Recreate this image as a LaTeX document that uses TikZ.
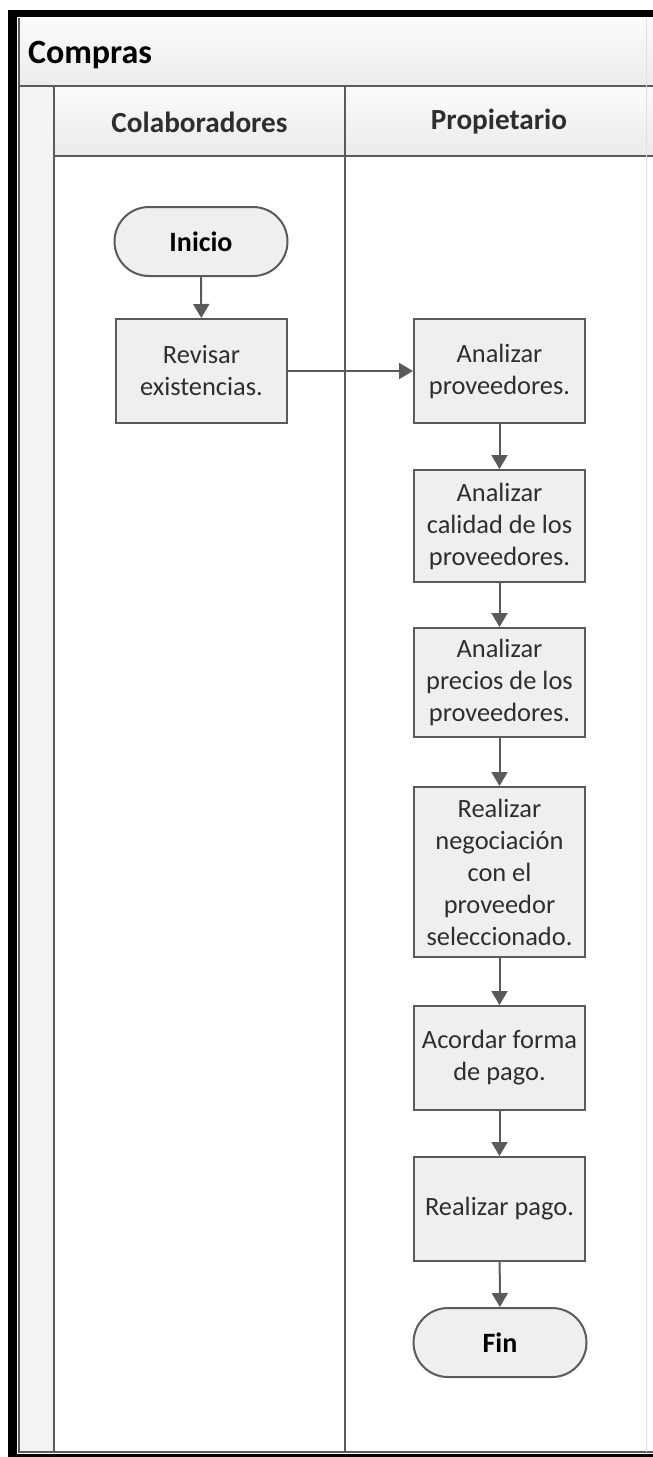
\documentclass[tikz,border=0pt]{standalone}
\usepackage{fontspec}
\setmainfont{Carlito}
\usepackage{tikz}
\usetikzlibrary{arrows.meta}
\definecolor{lane}{HTML}{5A5A5A}
\definecolor{boxfill}{HTML}{EFEFEF}
\definecolor{ink}{HTML}{2E2E2E}
\definecolor{bandtop}{HTML}{FBFBFB}
\definecolor{bandbot}{HTML}{EBEBEB}
\begin{document}
\begin{tikzpicture}[x=0.5pt,y=-0.5pt,
  proc/.style={draw=lane,line width=1pt,fill=boxfill,minimum width=85.5pt,inner sep=0pt,align=center,text=ink,font=\fontsize{13.2}{16}\selectfont},
  term/.style={proc,rounded corners=17.25pt,minimum width=86.5pt,minimum height=34.5pt,font=\fontsize{14}{16}\selectfont\bfseries,text=black},
  lanehead/.style={font=\fontsize{14.6}{17}\selectfont\bfseries,text=ink},
  flow/.style={draw=lane,line width=1pt,-{Triangle[length=7pt,width=8pt]}}]
\useasboundingbox (0,0) rectangle (653,1457);
% pool frame and lanes
\shade[top color=bandtop,bottom color=bandbot] (19,18) rectangle (653,86);
\fill[gray!9] (19,86) rectangle (54,1452);
\shade[top color=bandtop,bottom color=bandbot] (54,86) rectangle (653,156);
\fill[black] (8,10) rectangle (653,17); \fill[black] (8,10) rectangle (17,1457); \fill[black] (8,1454) rectangle (653,1457);
\draw[lane,line width=1pt] (19,18)--(19,1452)--(653,1452); \draw[lane,line width=1.2pt] (19,86)--(653,86);
\draw[lane,line width=1pt] (54,86)--(54,1452); \draw[lane,line width=1pt] (345,86)--(345,1452);
\draw[lane,line width=1.2pt] (54,156)--(653,156); \draw[gray!25,line width=0.5pt] (646,18)--(646,1452);
\node[anchor=west,font=\fontsize{17}{20}\selectfont\bfseries] (pool) at (21,55) {Compras};
\node[lanehead] (colab) at (199.5,122) {Colaboradores};
\node[lanehead] (prop) at (499,122) {Propietario};
% steps
\node[term] (ini) at (201,241.5) {Inicio};
\node[proc,minimum height=52pt] (rev) at (201.5,371) {Revisar\\existencias.};
\node[proc,minimum height=52pt] (ana) at (499.5,371) {Analizar\\proveedores.};
\node[proc,minimum height=56pt] (cal) at (499.5,526) {Analizar\\calidad de los\\proveedores.};
\node[proc,minimum height=54.5pt] (pre) at (499.5,682.5) {Analizar\\precios de los\\proveedores.};
\node[proc,minimum height=85pt] (neg) at (499.5,872) {Realizar\\negociación\\con el\\proveedor\\seleccionado.};
\node[proc,minimum height=52pt] (aco) at (499.5,1058) {Acordar forma\\de pago.};
\node[proc,minimum height=52pt] (pag) at (499.5,1209) {Realizar pago.};
\node[term] (fin) at (500,1342.5) {Fin};
\draw[flow] (ini)--(rev); \draw[flow] (rev)--(ana); \draw[flow] (ana)--(cal); \draw[flow] (cal)--(pre);
\draw[flow] (pre)--(neg); \draw[flow] (neg)--(aco); \draw[flow] (aco)--(pag); \draw[flow] (pag)--(fin);
\end{tikzpicture}
\end{document}
